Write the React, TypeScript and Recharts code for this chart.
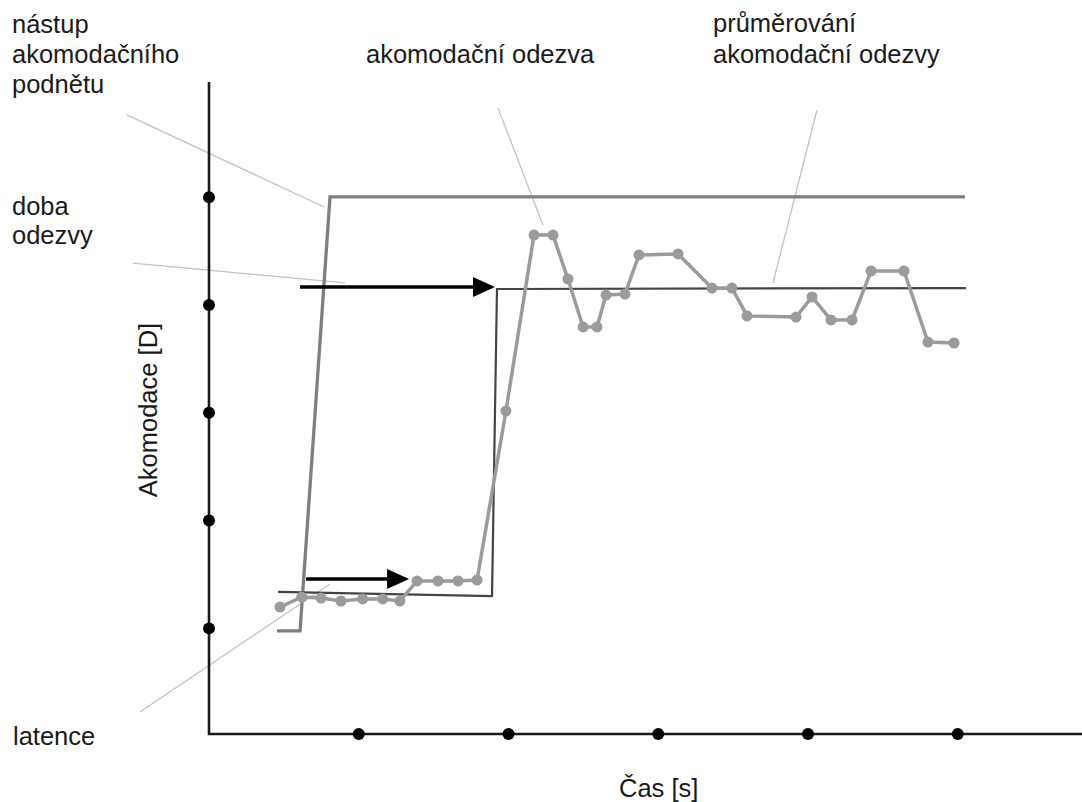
import React from 'react';
import { ComposedChart, Line, Scatter, XAxis, YAxis } from 'recharts';

// Chart geometry in data units (x: time, y: accommodation)
const X_DOMAIN: [number, number] = [-1.3957, 5.8297];
const Y_DOMAIN: [number, number] = [-0.611, 6.8307];
const AXIS_BASE = 0.02;
const AXIS_TOP = 6.07;
const AXIS_END = 5.83;

const xTicks = [1, 2, 3, 4, 5];
const yTicks = [1, 2, 3, 4, 5];

// nástup akomodačního podnětu (stimulus)
const stimulus = [
  { x: 0.454, y: 0.976 },
  { x: 0.608, y: 0.976 },
  { x: 0.808, y: 5.003 },
  { x: 5.048, y: 5.003 },
];

// průměrování akomodační odezvy (averaged response)
const averaged = [
  { x: 0.461, y: 1.338 },
  { x: 1.89, y: 1.3 },
  { x: 1.923, y: 4.149 },
  { x: 5.055, y: 4.158 },
];

// akomodační odezva (measured response)
const responseX = [0.474, 0.619, 0.748, 0.881, 1.026, 1.16, 1.275, 1.389, 1.529, 1.663, 1.79, 1.983, 2.17, 2.297, 2.397, 2.498, 2.591, 2.651, 2.778, 2.871, 3.132, 3.359, 3.492, 3.593, 3.92, 4.027, 4.154, 4.294, 4.421, 4.641, 4.801, 4.975];
const responseY = [1.198, 1.291, 1.282, 1.254, 1.273, 1.273, 1.254, 1.44, 1.44, 1.44, 1.449, 3.017, 4.65, 4.65, 4.242, 3.797, 3.797, 4.093, 4.102, 4.465, 4.474, 4.158, 4.158, 3.899, 3.889, 4.075, 3.862, 3.862, 4.316, 4.316, 3.657, 3.648];

// arrows: start, base of head, tip, level
const arrowStart = [0.648, 0.608];
const arrowBase = [1.189, 1.763];
const arrowTip = [1.336, 1.91];
const arrowY = [1.458, 4.168];

// annotation leader lines
const leaderNastup = [{ x: -0.548, y: 5.764 }, { x: 0.768, y: 4.91 }];
const leaderDoba = [{ x: -0.508, y: 4.39 }, { x: 0.908, y: 4.205 }];
const leaderLatence = [{ x: -0.461, y: 0.224 }, { x: 0.808, y: 1.412 }];
const leaderOdezva = [{ x: 1.93, y: 5.829 }, { x: 2.23, y: 4.743 }];
const leaderPrumer = [{ x: 4.06, y: 5.81 }, { x: 3.766, y: 4.205 }];

const labelNastup = ['nástup', 'akomodačního', 'podnětu'];
const labelDoba = ['doba', 'odezvy'];
const labelOdezva = ['akomodační odezva'];
const labelPrumer = ['průměrování', 'akomodační odezvy'];
const labelLatence = 'latence';
const labelX = 'Čas [s]';
const labelY = 'Akomodace [D]';

const FONT = '"Liberation Sans", Arial, Helvetica, sans-serif';

const response = responseX.map((x, i) => ({ x, y: responseY[i] }));
const axisPath = [
  { x: 0, y: AXIS_TOP },
  { x: 0, y: AXIS_BASE },
  { x: AXIS_END, y: AXIS_BASE },
];
const xDots = xTicks.map((x) => ({ x, y: AXIS_BASE }));
const yDots = yTicks.map((y) => ({ x: 0, y }));
const arrowShafts = arrowStart.map((s, i) => [
  { x: s, y: arrowY[i] },
  { x: arrowBase[i], y: arrowY[i] },
]);
const arrowHeads = arrowTip.map((x, i) => ({ x, y: arrowY[i] }));

const Head = (props: any) => {
  const { cx, cy } = props;
  return (
    <polygon
      points={`${cx},${cy} ${cx - 22},${cy - 10} ${cx - 22},${cy + 10}`}
      fill="#000"
    />
  );
};

const AxisDot = (props: any) => {
  const { cx, cy } = props;
  return <circle cx={cx} cy={cy} r={6} fill="#000" />;
};

const textStyle: React.CSSProperties = { fontFamily: FONT, fontSize: 25.5, fill: '#1a1a1a' };

const Lines = ({ lines, x, y, dy }: { lines: string[]; x: number; y: number; dy: number }) => (
  <>
    {lines.map((t, i) => (
      <text key={i} x={x} y={y + i * dy} style={textStyle}>
        {t}
      </text>
    ))}
  </>
);

export default function App() {
  const leaders = [leaderNastup, leaderDoba, leaderLatence, leaderOdezva, leaderPrumer];
  return (
    <div style={{ position: 'absolute', left: 0, top: 0, width: 1082, height: 802, background: '#fff' }}>
      <ComposedChart width={1082} height={802} margin={{ top: 0, right: 0, bottom: 0, left: 0 }}>
        <XAxis dataKey="x" type="number" domain={X_DOMAIN} allowDataOverflow hide />
        <YAxis dataKey="y" type="number" domain={Y_DOMAIN} allowDataOverflow hide />
        {leaders.map((d, i) => (
          <Line
            key={'l' + i}
            data={d}
            dataKey="y"
            type="linear"
            stroke="#c2c2c2"
            strokeWidth={1.3}
            dot={false}
            activeDot={false}
            isAnimationActive={false}
          />
        ))}
        <Line data={stimulus} dataKey="y" type="linear" stroke="#7f7f7f" strokeWidth={3.3} dot={false} activeDot={false} isAnimationActive={false} />
        <Line data={averaged} dataKey="y" type="linear" stroke="#444" strokeWidth={2.2} dot={false} activeDot={false} isAnimationActive={false} />
        <Line
          data={response}
          dataKey="y"
          type="linear"
          stroke="#9b9b9b"
          strokeWidth={3.5}
          dot={{ r: 5.5, fill: '#9b9b9b', stroke: 'none' }}
          activeDot={false}
          isAnimationActive={false}
        />
        {arrowShafts.map((d, i) => (
          <Line key={'a' + i} data={d} dataKey="y" type="linear" stroke="#000" strokeWidth={3.5} dot={false} activeDot={false} isAnimationActive={false} />
        ))}
        <Scatter data={arrowHeads} dataKey="y" shape={Head} isAnimationActive={false} />
        <Line data={axisPath} dataKey="y" type="linear" stroke="#1a1a1a" strokeWidth={2.6} dot={false} activeDot={false} isAnimationActive={false} />
        <Scatter data={xDots} dataKey="y" shape={AxisDot} isAnimationActive={false} />
        <Scatter data={yDots} dataKey="y" shape={AxisDot} isAnimationActive={false} />
      </ComposedChart>
      <svg
        width={1082}
        height={802}
        style={{ position: 'absolute', left: 0, top: 0, pointerEvents: 'none' }}
      >
        <Lines lines={labelNastup} x={12} y={33} dy={30} />
        <Lines lines={labelDoba} x={12} y={215} dy={29} />
        <Lines lines={labelOdezva} x={366} y={63} dy={30} />
        <Lines lines={labelPrumer} x={713} y={32} dy={31} />
        <text x={13} y={745} style={textStyle}>{labelLatence}</text>
        <text x={619} y={797} style={textStyle}>{labelX}</text>
        <text transform="translate(157,410) rotate(-90)" textAnchor="middle" style={textStyle}>
          {labelY}
        </text>
      </svg>
    </div>
  );
}
